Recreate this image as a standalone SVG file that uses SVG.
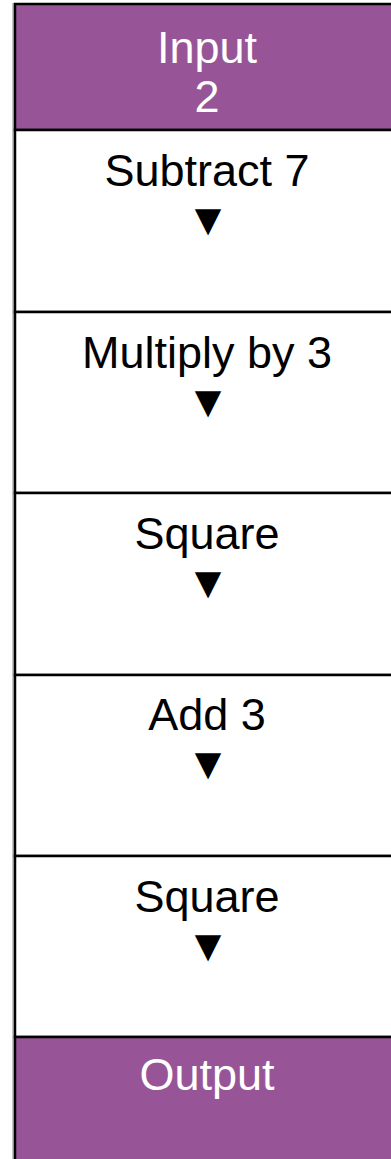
<svg xmlns="http://www.w3.org/2000/svg" width="391" height="1159" viewBox="0 0 391 1159">
<style>
.box{stroke:#000;stroke-width:2.5}
.io{fill:#975597}
.op{fill:#fff}
.t{font-family:"Liberation Sans",Arial,sans-serif;font-size:45px;text-anchor:middle}
.w{fill:#fff}
.k{fill:#000}
.frame{stroke:#888;stroke-width:1;fill:none}
</style>
<rect x="0" y="0" width="391" height="1159" fill="#fff"/>
<g id="connectors">
<line class="frame" x1="13" y1="3" x2="13" y2="1159"/>
</g>
<g id="input">
<rect class="box io" x="15" y="4" width="390" height="126"/>
<text class="t w" x="207" y="63">Input</text>
<text class="t w" x="207" y="112">2</text>
</g>
<g id="subtract7">
<rect class="box op" x="15" y="130" width="390" height="182"/>
<text class="t k" x="207" y="186">Subtract 7</text>
<text class="t k" x="208" y="235">▼</text>
</g>
<g id="multiply3">
<rect class="box op" x="15" y="312" width="390" height="181"/>
<text class="t k" x="207" y="368">Multiply by 3</text>
<text class="t k" x="208" y="417">▼</text>
</g>
<g id="square1">
<rect class="box op" x="15" y="493" width="390" height="182"/>
<text class="t k" x="207" y="549">Square</text>
<text class="t k" x="208" y="598">▼</text>
</g>
<g id="add3">
<rect class="box op" x="15" y="675" width="390" height="181"/>
<text class="t k" x="207" y="730">Add 3</text>
<text class="t k" x="208" y="779">▼</text>
</g>
<g id="square2">
<rect class="box op" x="15" y="856" width="390" height="181"/>
<text class="t k" x="207" y="912">Square</text>
<text class="t k" x="208" y="961">▼</text>
</g>
<g id="output">
<rect class="box io" x="15" y="1037" width="390" height="130"/>
<text class="t w" x="207" y="1090">Output</text>
</g>
</svg>
